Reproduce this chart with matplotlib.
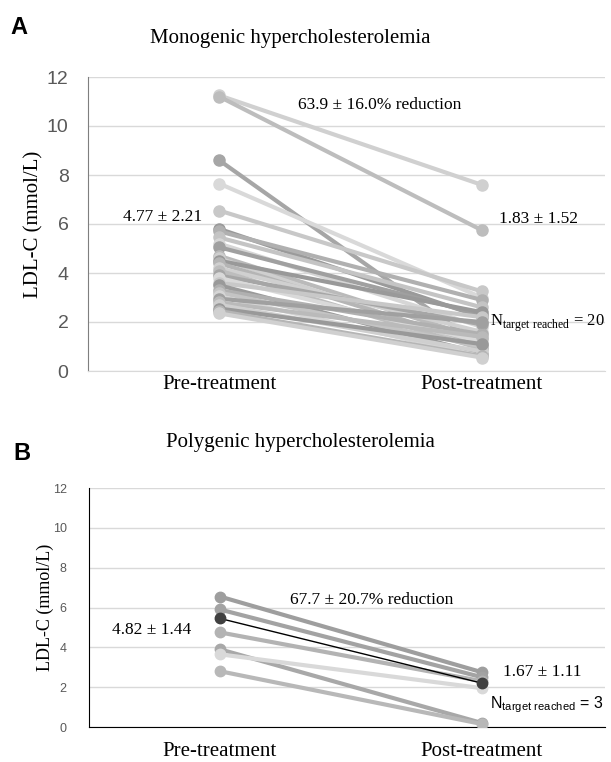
import matplotlib
matplotlib.use("Agg")
import matplotlib.pyplot as plt

# panel A - monogenic
mono_pre = [11.25, 11.2, 8.6, 7.65, 6.55, 5.8, 5.7, 5.45, 5.2, 5.05, 4.7, 4.6, 4.5, 4.4,
            4.2, 4.1, 3.9, 3.8, 3.6, 3.5, 3.3, 3.2, 3.05, 2.95, 2.8, 2.7, 2.55, 2.45, 2.35]
mono_post = [7.6, 5.75, 1.0, 3.0, 3.25, 2.2, 2.9, 2.6, 1.8, 2.3, 1.3, 1.0, 2.4, 1.1,
             1.6, 0.9, 1.9, 1.2, 2.2, 0.7, 1.5, 1.0, 0.6, 2.0, 1.4, 0.8, 1.1, 0.6, 0.55]

# panel B - polygenic
poly_pre = [6.55, 5.9, 5.45, 4.75, 3.9, 3.65, 2.8]
poly_post = [2.75, 2.5, 2.2, 2.3, 0.2, 1.95, 0.15]

timepoints = ["Pre-treatment", "Post-treatment"]
yticks = [0, 2, 4, 6, 8, 10, 12]

greys = ["#d0d0d0", "#bdbdbd", "#a6a6a6", "#d9d9d9", "#c8c8c8", "#9a9a9a", "#b0b0b0",
         "#c4c4c4", "#d6d6d6", "#a0a0a0", "#bababa", "#cfcfcf", "#999999", "#b5b5b5"]
poly_cols = ["#9e9e9e", "#a3a3a3", "#404040", "#b3b3b3", "#a8a8a8", "#d9d9d9", "#b8b8b8"]

serif = ["Liberation Serif", "DejaVu Serif"]
sans = ["Liberation Sans", "DejaVu Sans"]

W, H = 611, 762
fig = plt.figure(figsize=(W / 100, H / 100), dpi=100)


def ax_at(l, t, r, b):
    return fig.add_axes([l / W, 1 - b / H, (r - l) / W, (b - t) / H])


def style(ax, dark, ysize, ypad, ylab, xpad):
    ax.set_ylim(0, 12)
    ax.set_xlim(-0.5, 1.47)
    ax.set_yticks(yticks)
    ax.set_xticks([0, 1])
    ax.set_xticklabels(timepoints, family=serif, fontsize=15)
    ax.tick_params(length=0)
    ax.tick_params(axis="x", colors="black", pad=xpad)
    ax.tick_params(axis="y", colors="#595959", labelsize=ysize, pad=ypad)
    for lab in ax.get_yticklabels():
        lab.set_family(sans)
    ax.grid(axis="y", color="#d9d9d9", lw=1)
    ax.set_axisbelow(True)
    ax.spines["top"].set_visible(False)
    ax.spines["right"].set_visible(False)
    if dark:
        ax.spines["left"].set_color("black")
        ax.spines["bottom"].set_color("black")
    else:
        ax.spines["left"].set_color("#7f7f7f")
        ax.spines["bottom"].set_color("#d9d9d9")
    ax.set_ylabel("LDL-C (mmol/L)", family=serif, fontsize=ylab)


# A
axA = ax_at(88, 77, 605, 371)
style(axA, False, 14, 14, 15, 3)
axA.yaxis.set_label_coords(-0.087, 0.5)
for i, (a, b) in enumerate(zip(mono_pre, mono_post)):
    c = greys[i % len(greys)]
    axA.plot([0, 1], [a, b], color=c, lw=3, marker="o", ms=8, zorder=3)
axA.text(0.61, 10.85, "63.9 ± 16.0% reduction", family=serif, fontsize=12.5, ha="center", va="center")
axA.text(-0.215, 6.3, "4.77 ± 2.21", family=serif, fontsize=12.5, ha="center", va="center")
axA.text(1.215, 6.2, "1.83 ± 1.52", family=serif, fontsize=12.5, ha="center", va="center")
axA.text(1.03, 1.96, r"N$_{\mathregular{target\ reached}}$ = 20", family=serif, fontsize=12,
         ha="left", va="center")
fig.text(10 / W, 1 - 28 / H, "A", fontsize=17, fontweight="bold", family=sans, va="center")
fig.text(290 / W, 1 - 38 / H, "Monogenic hypercholesterolemia", family=serif, fontsize=15,
         ha="center", va="center")

# B
axB = ax_at(89, 488, 605, 727)
style(axB, True, 9, 16, 13, 11)
axB.yaxis.set_label_coords(-0.068, 0.5)
for a, b, c in zip(poly_pre, poly_post, poly_cols):
    if c == "#404040":
        axB.plot([0, 1], [a, b], color="black", lw=1, zorder=4)
        axB.plot([0, 1], [a, b], color=c, lw=0, marker="o", ms=7.5, zorder=4)
    else:
        axB.plot([0, 1], [a, b], color=c, lw=3, marker="o", ms=7.5, zorder=3)
axB.text(0.58, 6.4, "67.7 ± 20.7% reduction", family=serif, fontsize=12.5, ha="center", va="center")
axB.text(-0.26, 4.85, "4.82 ± 1.44", family=serif, fontsize=12.5, ha="center", va="center")
axB.text(1.23, 2.75, "1.67 ± 1.11", family=serif, fontsize=12.5, ha="center", va="center")
axB.text(1.03, 1.1, r"N$_{\mathregular{target\ reached}}$ = 3", family=sans, fontsize=11.5,
         ha="left", va="center")
fig.text(13 / W, 1 - 454 / H, "B", fontsize=17, fontweight="bold", family=sans, va="center")
fig.text(300 / W, 1 - 442 / H, "Polygenic hypercholesterolemia", family=serif, fontsize=15,
         ha="center", va="center")

fig.savefig("out.png", dpi=100)
